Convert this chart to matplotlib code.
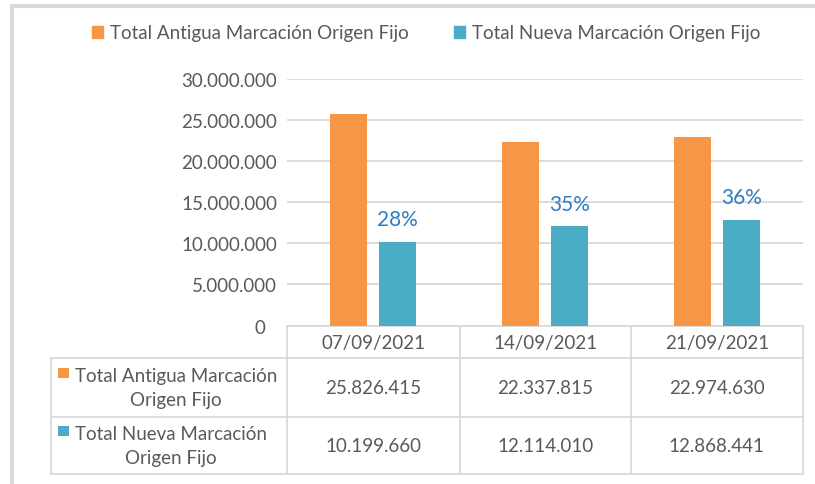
import matplotlib
matplotlib.use("Agg")
import matplotlib.pyplot as plt
import numpy as np
from matplotlib.patches import Patch, Rectangle
from matplotlib.ticker import FuncFormatter, MultipleLocator
import matplotlib.transforms as mtransforms

plt.rcParams['font.family'] = ['Lato', 'DejaVu Sans']

# ---- data ----
categories = ["07/09/2021", "14/09/2021", "21/09/2021"]
series_names = ["Total Antigua Marcación Origen Fijo", "Total Nueva Marcación Origen Fijo"]
row_labels = ["Total Antigua Marcación\nOrigen Fijo", "Total Nueva Marcación\nOrigen Fijo"]
antigua = [25826415, 22337815, 22974630]
nueva = [10199660, 12114010, 12868441]

C_OR = "#F79646"
C_TE = "#4BACC6"
C_TXT = "#595959"
C_GRID = "#D9D9D9"
C_LBL = "#2E7CC4"

W, H = 815, 485
fig = plt.figure(figsize=(W / 100, H / 100), dpi=100)
fig.patch.set_facecolor("white")

def fx(px):
    return px / W

def fy(py):
    return 1 - py / H

fs = 13.5

# ---- bar axes ----
L, R, T, B = 287, 803, 80.3, 326.5
ax = fig.add_axes([fx(L), fy(B), fx(R - L), (B - T) / H])
x = np.arange(len(categories))
bw = 0.22
off = 0.142
ax.bar(x - off, antigua, bw, color=C_OR, zorder=3)
ax.bar(x + off, nueva, bw, color=C_TE, zorder=3)
ax.set_xlim(-0.5, len(categories) - 0.5)
ax.set_ylim(0, 30000000)
ax.yaxis.set_major_locator(MultipleLocator(5000000))
ax.yaxis.set_major_formatter(FuncFormatter(lambda v, p: f"{int(v):,}".replace(",", ".")))
ax.grid(axis="y", color=C_GRID, linewidth=1.3, zorder=0)
for s in ax.spines.values():
    s.set_visible(False)
ax.set_xticks([])
ax.tick_params(axis="y", length=0, pad=7, labelsize=fs, labelcolor=C_TXT)
ax.set_facecolor("none")
# zero tick label sits slightly further left
fig.canvas.draw()
for lab in ax.get_yticklabels():
    if lab.get_text() == "0":
        lab.set_transform(lab.get_transform() + mtransforms.ScaledTranslation(-12 / 100, 0, fig.dpi_scale_trans))

shares = [n / (a + n) for a, n in zip(antigua, nueva)]
for xi, v, s in zip(x, nueva, shares):
    ax.annotate(f"{s:.0%}", (xi + off, v), xytext=(0, 9), textcoords="offset points",
                ha="center", va="bottom", fontsize=15, color=C_LBL)

# ---- overlay for table, frame, legend ----
ov = fig.add_axes([0, 0, 1, 1], zorder=-1)
ov.set_xlim(0, W)
ov.set_ylim(H, 0)
ov.axis("off")

# chart frame (left and top)
ov.plot([11.5, 11.5], [7, H + 5], color="#D9D9D9", lw=3, solid_capstyle="butt")
ov.plot([10, W + 5], [7, 7], color="#D9D9D9", lw=3, solid_capstyle="butt")

# table lines
col_edges = [287, 460, 631, 802.5]
row_y = [326.7, 359, 418, 475]
tl = 50.5
lw = 1.3
ov.plot([col_edges[0], col_edges[-1]], [row_y[0], row_y[0]], color=C_GRID, lw=lw)
for yy in row_y[1:]:
    ov.plot([tl, col_edges[-1]], [yy, yy], color=C_GRID, lw=lw)
ov.plot([tl, tl], [row_y[1], row_y[-1]], color=C_GRID, lw=lw)
for xx in col_edges:
    ov.plot([xx, xx], [row_y[0], row_y[-1]], color=C_GRID, lw=lw)

for i, c in enumerate(categories):
    cx = (col_edges[i] + col_edges[i + 1]) / 2
    ov.text(cx, (row_y[0] + row_y[1]) / 2 + 1, c, ha="center", va="center", fontsize=fs, color=C_TXT)

rows = [antigua, nueva]
colors = [C_OR, C_TE]
for r, (vals, lab, col) in enumerate(zip(rows, row_labels, colors)):
    y0, y1 = row_y[r + 1], row_y[r + 2]
    cy = (y0 + y1) / 2
    for i, v in enumerate(vals):
        cx = (col_edges[i] + col_edges[i + 1]) / 2
        ov.text(cx, cy, f"{v:,}".replace(",", "."), ha="center", va="center", fontsize=fs, color=C_TXT)
    ov.text(75, cy, lab, ha="left", va="center", multialignment="center", fontsize=fs,
            color=C_TXT, linespacing=1.5)
    ov.add_patch(Rectangle((58, cy - 20), 10.5, 10.5, color=col, lw=0))

# legend
handles = [Patch(color=C_OR), Patch(color=C_TE)]
fig.legend(handles, series_names, loc="center", bbox_to_anchor=(fx(426), fy(34)), ncol=2,
           frameon=False, fontsize=fs, labelcolor=C_TXT, handlelength=0.6, handleheight=0.6,
           handletextpad=0.35, columnspacing=2.4)

fig.savefig("out.png", dpi=100)
